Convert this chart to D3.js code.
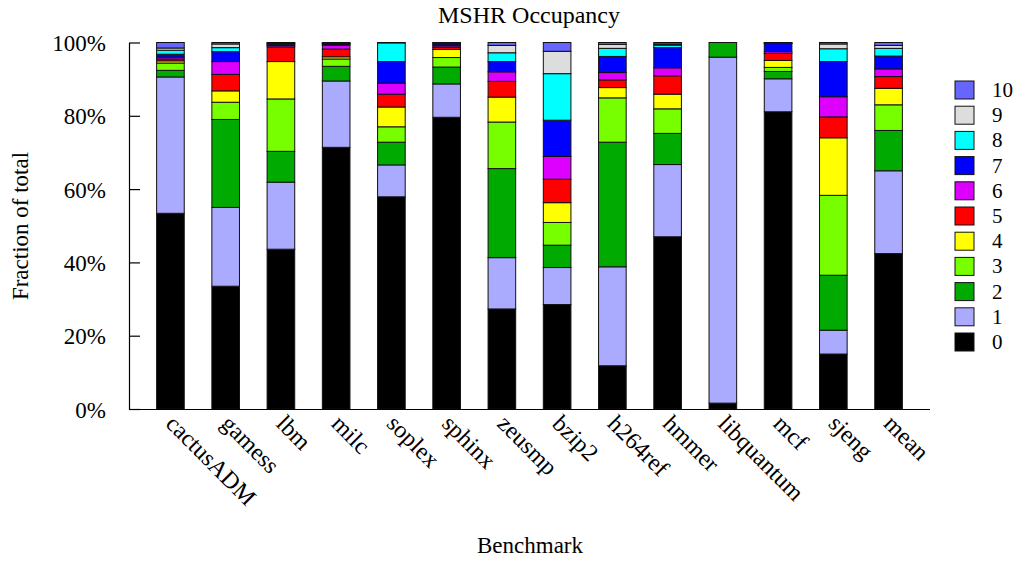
<!DOCTYPE html>
<html>
<head>
<meta charset="utf-8">
<script src="https://cdn.jsdelivr.net/npm/d3@7"></script>
<style>
  html, body { margin: 0; padding: 0; background: #fff; }
  svg { display: block; font-family: "Liberation Serif", "DejaVu Serif", serif; }
</style>
</head>
<body>
<svg id="chart" width="1016" height="561"></svg>
<script>
// Benchmarks along the x axis
const benchmarks = ["cactusADM", "gamess", "lbm", "milc", "soplex", "sphinx", "zeusmp",
                    "bzip2", "h264ref", "hmmer", "libquantum", "mcf", "sjeng", "mean"];

// Occupancy levels (number of busy MSHR entries) and their fill colours
const levels = ["0", "1", "2", "3", "4", "5", "6", "7", "8", "9", "10"];
const levelColors = ["#000000", "#aaaaff", "#00aa00", "#77ff00", "#ffff00", "#ff0000",
                     "#dd00ff", "#0000ff", "#00ffff", "#dddddd", "#6666ff"];

// Percentage of time spent at each occupancy level, one array per level
const occ0  = [53.4, 33.5, 43.6, 71.4, 57.9, 79.6, 27.3, 28.5, 11.8, 47.0,  1.6, 81.1, 15.0, 42.4];
const occ1  = [37.2, 21.5, 18.3, 18.1,  8.7,  9.1, 14.0, 10.1, 27.0, 19.7, 94.4,  9.0,  6.5, 22.6];
const occ2  = [ 1.8, 24.0,  8.4,  4.0,  6.2,  4.6, 24.3,  6.1, 34.0,  8.5,  4.0,  2.0, 15.0, 11.0];
const occ3  = [ 2.0,  4.7, 14.3,  2.0,  4.2,  2.6, 12.7,  6.2, 12.1,  6.7,  0.0,  1.1, 21.8,  7.0];
const occ4  = [ 0.6,  3.1, 10.2,  0.6,  5.4,  2.2,  6.8,  5.4,  2.8,  4.0,  0.0,  1.9, 15.7,  4.5];
const occ5  = [ 0.5,  4.5,  4.0,  2.1,  3.5,  0.6,  4.3,  6.4,  2.1,  5.0,  0.0,  1.9,  5.7,  3.2];
const occ6  = [ 0.5,  3.5,  0.4,  1.1,  3.0,  0.4,  2.6,  6.2,  2.0,  2.2,  0.0,  0.5,  5.5,  2.1];
const occ7  = [ 0.8,  2.7,  0.3,  0.3,  5.9,  0.5,  2.8,  9.9,  4.4,  5.5,  0.0,  2.2,  9.6,  3.5];
const occ8  = [ 1.1,  1.1,  0.2,  0.1,  5.1,  0.2,  2.4, 12.7,  2.2,  0.7,  0.0,  0.1,  3.5,  2.1];
const occ9  = [ 0.6,  1.0,  0.2,  0.1,  0.1,  0.1,  2.0,  6.1,  1.1,  0.3,  0.0,  0.1,  1.3,  0.8];
const occ10 = [ 1.5,  0.4,  0.1,  0.2,  0.0,  0.1,  0.8,  2.4,  0.5,  0.4,  0.0,  0.1,  0.4,  0.8];

// Y axis tick values (fractions)
const yTicks = [0, 0.2, 0.4, 0.6, 0.8, 1.0];

const series = [occ0, occ1, occ2, occ3, occ4, occ5, occ6, occ7, occ8, occ9, occ10];

// Row-per-benchmark table for d3.stack
const table = benchmarks.map((b, i) => {
  const row = { bench: b };
  levels.forEach((l, k) => { row[l] = series[k][i] / 100; });
  return row;
});

const svg = d3.select("#chart");
const plotLeft = 129, plotRight = 930, plotTop = 42.5, plotBottom = 409;

const x = d3.scaleBand().domain(benchmarks).range([plotLeft, plotRight]).padding(0.5);
const y = d3.scaleLinear().domain([0, 1]).range([plotBottom, plotTop]);
const color = d3.scaleOrdinal().domain(levels).range(levelColors);

const stacked = d3.stack().keys(levels)(table);

// Stacked bars
svg.append("g")
  .selectAll("g")
  .data(stacked)
  .join("g")
    .attr("fill", d => color(d.key))
  .selectAll("rect")
  .data(d => d)
  .join("rect")
    .attr("x", d => x(d.data.bench))
    .attr("width", x.bandwidth())
    .attr("y", d => y(d[1]))
    .attr("height", d => Math.max(0, y(d[0]) - y(d[1])))
    .attr("stroke", "#111")
    .attr("stroke-width", 1);

// Y axis with inward ticks
const yAxis = d3.axisLeft(y)
  .tickValues(yTicks)
  .tickFormat(d3.format(".0%"))
  .tickSizeInner(-11)
  .tickSizeOuter(0)
  .tickPadding(23);
const gy = svg.append("g").attr("transform", `translate(${plotLeft},0)`).call(yAxis);
gy.select(".domain").attr("stroke", "#000").attr("stroke-width", 1.2);
gy.selectAll(".tick line").attr("stroke", "#000").attr("stroke-width", 1.2);
gy.selectAll(".tick text")
  .attr("font-family", "Liberation Serif, serif")
  .attr("font-size", 23)
  .attr("fill", "#000")
  .attr("dy", "0.35em");

// X axis: baseline only, labels rotated
const xAxis = d3.axisBottom(x).tickSize(0).tickPadding(0);
const gx = svg.append("g").attr("transform", `translate(0,${plotBottom})`).call(xAxis);
gx.select(".domain").attr("stroke", "#000").attr("stroke-width", 1.2)
  .attr("d", `M${plotLeft},0.5H${plotRight}`);
gx.selectAll(".tick text")
  .attr("font-family", "Liberation Serif, serif")
  .attr("font-size", 24)
  .attr("fill", "#000")
  .attr("text-anchor", "start")
  .attr("dy", 0)
  .attr("y", 0)
  .attr("transform", "translate(-6,16) rotate(45)");

// Title and axis titles
svg.append("text")
  .attr("x", 529).attr("y", 23)
  .attr("text-anchor", "middle")
  .attr("font-size", 24)
  .text("MSHR Occupancy");

svg.append("text")
  .attr("x", 530).attr("y", 553)
  .attr("text-anchor", "middle")
  .attr("font-size", 23)
  .text("Benchmark");

svg.append("text")
  .attr("transform", "translate(28,226) rotate(-90)")
  .attr("text-anchor", "middle")
  .attr("font-size", 23)
  .text("Fraction of total");

// Legend, highest occupancy on top
const legendLevels = levels.slice().reverse();
const legend = svg.append("g")
  .selectAll("g")
  .data(legendLevels)
  .join("g")
    .attr("transform", (d, i) => `translate(955,${90 + i * 25.2})`);
legend.append("rect")
  .attr("x", 0).attr("y", -9)
  .attr("width", 19).attr("height", 18)
  .attr("fill", d => color(d))
  .attr("stroke", "#111")
  .attr("stroke-width", 1);
legend.append("text")
  .attr("x", 37).attr("y", 7)
  .attr("font-size", 21)
  .text(d => d);
</script>
</body>
</html>
